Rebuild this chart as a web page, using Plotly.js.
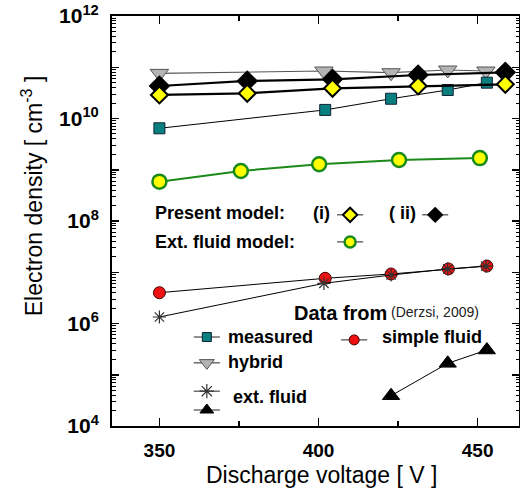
<!DOCTYPE html>
<html>
<head>
<meta charset="utf-8">
<script src="https://cdn.plot.ly/plotly-3.0.1.min.js"></script>
<style>
  html, body { margin: 0; padding: 0; background: #fff; }
  #chart { width: 520px; height: 498px; }
</style>
</head>
<body>
<div id="chart"></div>
<script>
// Discharge voltage [V] and electron density [cm^-3] for each data set
const vPresent = [350, 377.6, 404.4, 431.3, 458.7];
const nePresentI = [2.88e10, 3.10e10, 3.88e10, 4.31e10, 4.65e10];
const nePresentII = [4.31e10, 5.40e10, 5.82e10, 7.06e10, 7.96e10];

const vExtFluidModel = [350, 375.6, 400.2, 425.3, 450.7];
const neExtFluidModel = [5.85e8, 9.46e8, 1.28e9, 1.55e9, 1.69e9];

const vMeasured = [350, 402.1, 422.8, 440.6, 452.9];
const neMeasured = [6.44e9, 1.47e10, 2.43e10, 3.60e10, 5.00e10];

const vHybrid = [350, 401.7, 422.8, 440.6, 452.6];
const neHybrid = [7.59e10, 8.45e10, 7.83e10, 8.83e10, 8.45e10];

const vSimpleFluid = [350, 402.1, 422.8, 440.8, 452.9];
const neSimpleFluid = [3.99e6, 7.62e6, 9.25e6, 1.16e7, 1.32e7];

const vExtFluid = [350, 401.7, 422.8, 440.6, 452.6];
const neExtFluid = [1.34e6, 6.08e6, 8.83e6, 1.16e7, 1.32e7];

const vTriangle = [422.8, 440.6, 452.9];
const neTriangle = [3.90e4, 1.67e5, 3.04e5];

const xTickVals = [350, 400, 450];
const xTickText = ['350', '400', '450'];
const yDecades = [4, 5, 6, 7, 8, 9, 10, 11, 12];

// Marker styles shared by the curves and their keys
const styles = {
  presentI:  { symbol: 'diamond', color: '#ffff00', line: { color: '#000', width: 2 } },
  presentII: { symbol: 'diamond', color: '#000000', line: { color: '#000', width: 1.5 } },
  extModel:  { symbol: 'circle', color: '#ffff00', line: { color: '#1a8a1a', width: 2.5 } },
  measured:  { symbol: 'square', color: '#0a7f80', line: { color: '#123', width: 1 } },
  hybrid:    { symbol: 'triangle-down', color: '#b4b4b4', line: { color: '#555', width: 1 } },
  simple:    { symbol: 'circle', color: '#ee1111', line: { color: '#400', width: 1 } },
  extFluid:  { symbol: 'asterisk-open', color: '#333', line: { color: '#333', width: 1.2 } },
  triangle:  { symbol: 'triangle-up', color: '#000', line: { color: '#000', width: 1 } }
};

function curve(x, y, st, size, lineColor, lineWidth) {
  return {
    x: x, y: y, type: 'scatter', mode: 'lines+markers',
    line: { color: lineColor, width: lineWidth },
    marker: Object.assign({ size: size }, st),
    hoverinfo: 'skip', showlegend: false
  };
}

const traces = [
  curve(vHybrid, neHybrid, styles.hybrid, 16, '#555', 1.2),
  curve(vMeasured, neMeasured, styles.measured, 11, '#000', 1),
  curve(vPresent, nePresentII, styles.presentII, 15, '#000', 2.2),
  curve(vPresent, nePresentI, styles.presentI, 13, '#000', 2.2),
  curve(vExtFluidModel, neExtFluidModel, styles.extModel, 14, '#1a8a1a', 2),
  curve(vSimpleFluid, neSimpleFluid, styles.simple, 12, '#000', 1),
  curve(vExtFluid, neExtFluid, styles.extFluid, 11, '#000', 1),
  curve(vTriangle, neTriangle, styles.triangle, 15, '#000', 1)
];

// Legend keys: a short line with the marker, on an overlay axis in plot fractions
const keyHalf = 0.032;
function key(fx, fy, st, size) {
  return [
    { x: [fx - keyHalf, fx + keyHalf], y: [fy, fy], xaxis: 'x2', yaxis: 'y2',
      type: 'scatter', mode: 'lines', line: { color: '#222', width: 1 },
      hoverinfo: 'skip', showlegend: false },
    { x: [fx], y: [fy], xaxis: 'x2', yaxis: 'y2', type: 'scatter', mode: 'markers',
      marker: Object.assign({ size: size }, st), hoverinfo: 'skip', showlegend: false }
  ];
}
traces.push(
  ...key(0.585, 0.515, styles.presentI, 11),
  ...key(0.794, 0.515, styles.presentII, 11),
  ...key(0.585, 0.449, styles.extModel, 11),
  ...key(0.233, 0.217, styles.measured, 9),
  ...key(0.595, 0.210, styles.simple, 10),
  ...key(0.233, 0.154, styles.hybrid, 13),
  ...key(0.233, 0.085, styles.extFluid, 12),
  ...key(0.233, 0.039, styles.triangle, 12)
);

const yMinor = [];
for (let d = 4; d < 12; d++) for (let m = 2; m <= 9; m++) yMinor.push(m * Math.pow(10, d));

const boldFont = { family: 'Liberation Sans, Arial, sans-serif', size: 18, color: '#000', weight: 'bold' };
function label(text, fx, fy, extra) {
  return Object.assign({
    text: text, xref: 'paper', yref: 'paper', x: fx, y: fy,
    xanchor: 'left', yanchor: 'middle', showarrow: false, font: boldFont
  }, extra || {});
}

const layout = {
  width: 520, height: 498,
  margin: { l: 112, r: 1, t: 16, b: 72 },
  paper_bgcolor: '#fff', plot_bgcolor: '#fff',
  hovermode: false, showlegend: false,
  xaxis: {
    range: [335.1, 463], showgrid: false, zeroline: false,
    showline: true, linecolor: '#000', linewidth: 2, mirror: 'ticks',
    tickmode: 'array', tickvals: xTickVals, ticktext: xTickText,
    ticks: 'inside', ticklen: 8, tickwidth: 1.5, tickcolor: '#000',
    ticklabelstandoff: 6,
    tickfont: { family: 'Liberation Sans, Arial, sans-serif', size: 19, color: '#000', weight: 'bold' },
    minor: { tickvals: [375, 425], ticks: 'inside', ticklen: 5, tickwidth: 1.5, tickcolor: '#000' }
  },
  yaxis: {
    type: 'log', range: [4, 12], showgrid: false, zeroline: false,
    showline: true, linecolor: '#000', linewidth: 2, mirror: 'ticks',
    tickmode: 'array',
    tickvals: yDecades.map(d => Math.pow(10, d)),
    ticktext: yDecades.map(d => d % 2 === 0 ? '10<sup>' + d + '</sup>' : ''),
    ticks: 'inside', ticklen: 7, tickwidth: 1.5, tickcolor: '#000',
    ticklabelstandoff: 7,
    tickfont: { family: 'Liberation Sans, Arial, sans-serif', size: 21, color: '#000', weight: 'bold' },
    minor: { tickvals: yMinor, ticks: 'inside', ticklen: 3.5, tickwidth: 1, tickcolor: '#000' }
  },
  xaxis2: { overlaying: 'x', range: [0, 1], visible: false, fixedrange: true },
  yaxis2: { overlaying: 'y', range: [0, 1], visible: false, fixedrange: true },
  annotations: [
    { text: 'Discharge voltage [ V ]', xref: 'paper', yref: 'paper', x: 0.515, y: -0.12,
      xanchor: 'center', yanchor: 'middle', showarrow: false,
      font: { family: 'Liberation Sans, Arial, sans-serif', size: 23, color: '#000' } },
    { text: 'Electron density [ cm<sup>-3</sup> ]', xref: 'paper', yref: 'paper', x: -0.196, y: 0.561,
      xanchor: 'center', yanchor: 'middle', textangle: -90, showarrow: false,
      font: { family: 'Liberation Sans, Arial, sans-serif', size: 23, color: '#000' } },
    label('Present model:', 0.100, 0.519),
    label('(i)', 0.489, 0.519),
    label('( ii)', 0.676, 0.519),
    label('Ext. fluid model:', 0.100, 0.449),
    label('Data from', 0.442, 0.275, { font: Object.assign({}, boldFont, { size: 20 }) }),
    label('(Derzsi, 2009)', 0.680, 0.278,
      { font: { family: 'Liberation Sans, Arial, sans-serif', size: 14, color: '#222' } }),
    label('measured', 0.280, 0.217),
    label('simple fluid', 0.658, 0.218),
    label('hybrid', 0.280, 0.156),
    label('ext. fluid', 0.292, 0.071)
  ]
};

Plotly.newPlot('chart', traces, layout, { displayModeBar: false, staticPlot: true });
</script>
</body>
</html>
